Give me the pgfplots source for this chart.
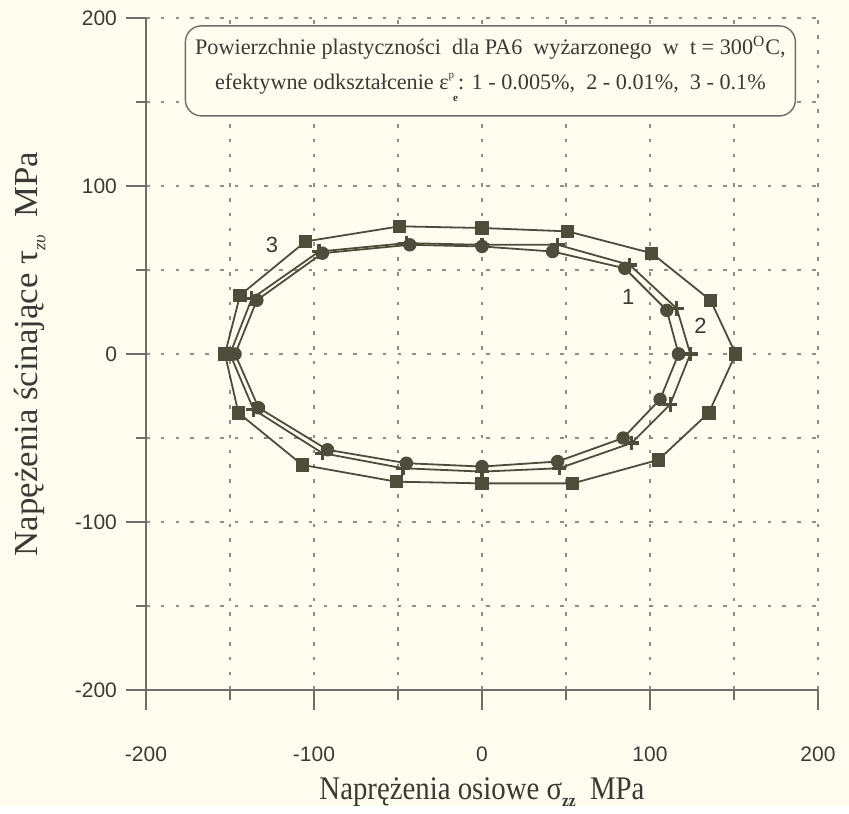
\documentclass[border=0pt]{standalone}
\usepackage{fontspec}
\setmainfont{Liberation Serif}
\newfontfamily\arial{Liberation Sans}
\usepackage{pgfplots}
\pgfplotsset{compat=1.18}
\definecolor{bg}{HTML}{FDFCEF}
\definecolor{ink}{HTML}{4E4D3C}
\definecolor{axc}{HTML}{6E6E66}
\definecolor{gridc}{HTML}{8E8E84}
\definecolor{txt}{HTML}{3A3A34}
\begin{document}
\begin{tikzpicture}
\fill[bg] (-73pt,-58pt) rectangle (351.5pt,345pt);
\begin{axis}[
  at={(0,0)}, anchor=south west,
  width=336pt, height=336pt, scale only axis,
  xmin=-200, xmax=200, ymin=-200, ymax=200,
  axis x line=bottom, axis y line=left,
  axis line style={-, axc, line width=0.8pt},
  xtick={-200,-100,...,200}, ytick={-200,-100,...,200},
  minor xtick={-150,-50,50,150}, minor ytick={-150,-50,50,150},
  grid=both,
  major grid style={gridc, line width=0.7pt, dash pattern=on 1.8pt off 5.6pt},
  minor grid style={gridc, line width=0.7pt, dash pattern=on 1.8pt off 5.6pt},
  tick style={axc, line width=0.8pt},
  major tick length=10pt, minor tick length=5pt, tick align=outside,
  /pgf/number format/assume math mode=true,
  ticklabel style={font=\arial\fontsize{10.5}{12}\selectfont, text=txt},
  xticklabel style={yshift=-15pt},
  yticklabel style={xshift=-1pt},
  xlabel={\scalebox{0.96}[1.1]{Naprężenia osiowe σ\raisebox{-0.5ex}{\fontsize{8}{9}\selectfont\bfseries zz}\ \ MPa}},
  ylabel={\scalebox{1.16}[1.12]{Napężenia ścinające τ\raisebox{-0.5ex}{\fontsize{8}{9}\selectfont\itshape zυ}\ \ MPa}},
  label style={font=\fontsize{15}{18}\selectfont, text=txt},
  xlabel style={at={(axis description cs:0.5,0)}, anchor=center, yshift=-51pt},
  ylabel style={at={(axis description cs:0,0.5)}, anchor=center, yshift=58pt},
  clip=false,
]
% curve 3 (squares)
\addplot[ink, line width=0.9pt, mark=square*, mark size=2.9pt, mark options={fill=ink, solid}] coordinates {
(151,0) (136,32) (101,60) (51,73) (0,75) (-49,76) (-105,67) (-144,35) (-153,0)
(-145,-35) (-107,-66) (-51,-76) (0,-77) (54,-77) (105,-63) (135,-35) (151,0)};
% curve 2 (crosses)
\addplot[ink, line width=0.9pt, mark=+, mark size=3.6pt, mark options={line width=1.6pt, solid}] coordinates {
(124,0) (116,27) (88,53) (45,65) (0,65) (-45,66) (-97,61) (-137,33) (-150,0)
(-136,-33) (-95,-59) (-47,-68) (0,-70) (46,-68) (89,-53) (112,-30) (124,0)};
% curve 1 (circles)
\addplot[ink, line width=0.9pt, mark=*, mark size=2.9pt, mark options={fill=ink, solid}] coordinates {
(117,0) (110,26) (85,51) (42,61) (0,64) (-43,65) (-95,60) (-134,32) (-147,0)
(-133,-32) (-92,-57) (-45,-65) (0,-67) (45,-64) (84,-50) (106,-27) (117,0)};
\node[font=\arial\fontsize{11}{12}\selectfont, text=txt] at (axis cs:-125,65) {3};
\node[font=\arial\fontsize{11}{12}\selectfont, text=txt] at (axis cs:87,34) {1};
\node[font=\arial\fontsize{11}{12}\selectfont, text=txt] at (axis cs:130,17) {2};
\node[draw=axc, fill=bg, rounded corners=8pt, minimum width=305pt, minimum height=45pt, line width=0.7pt] at (axis cs:5,168.5) {};
\node[font=\fontsize{11.1}{17.5}\selectfont, text=txt, align=center] at (axis cs:5,169.5) {Powierzchnie plastyczności\ \ dla PA6\ \ wyżarzonego\ \ w\ \ t = 300\textsuperscript{O}C,\\efektywne odkształcenie ε\raisebox{1.1ex}{\fontsize{5.5}{6}\selectfont p}\kern-0.5pt\raisebox{-1.2ex}{\fontsize{5.5}{6}\selectfont\bfseries e}: 1 - 0.005\%,\ \ 2 - 0.01\%,\ \ 3 - 0.1\%};
\end{axis}
\end{tikzpicture}
\end{document}
